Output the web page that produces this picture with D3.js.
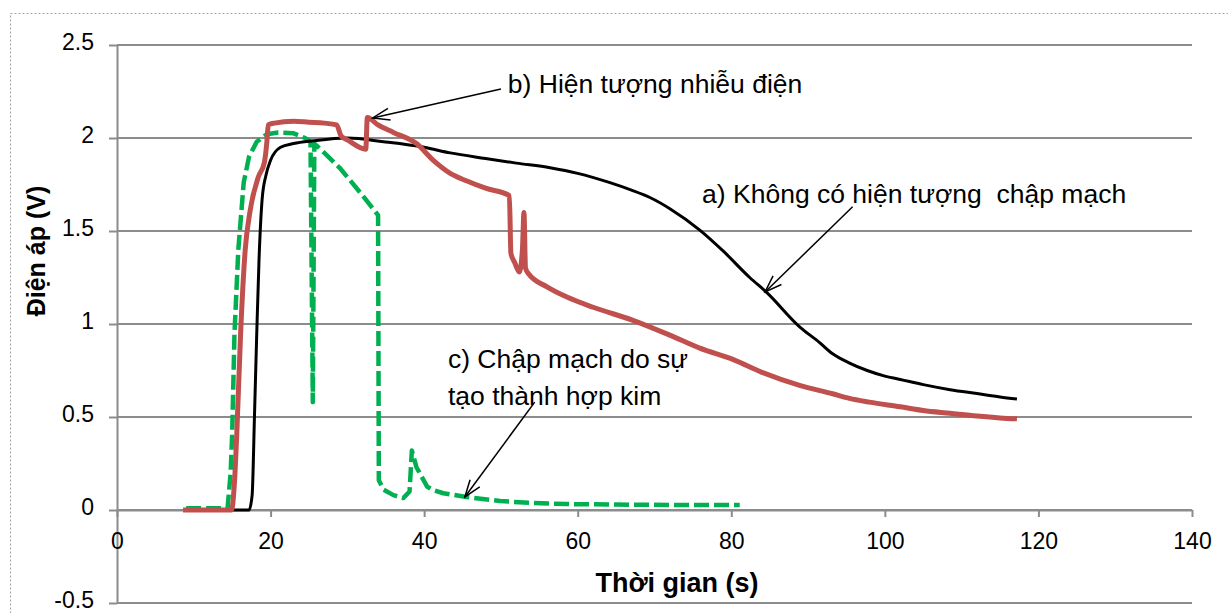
<!DOCTYPE html>
<html>
<head>
<meta charset="utf-8">
<script src="https://cdn.jsdelivr.net/npm/d3@7"></script>
<style>
  body { margin: 0; background: #fff; }
  svg { display: block; font-family: "Liberation Sans", Arial, sans-serif; }
</style>
</head>
<body>
<svg id="chart" width="1228" height="613"></svg>
<script>
// a) no short circuit (black)
const tA = [9, 17.2, 17.6, 17.9, 18.2, 18.5, 18.9, 19.4, 20, 21.3, 23, 25.6, 30, 34.7, 40, 43.4, 48, 52, 56.4, 60,
  64.2, 67, 69.4, 72, 75.9, 79, 82.4, 84.6, 88.9, 91.5, 93.2, 95.4, 97.7, 100, 102, 105, 108.5, 112, 115, 117.2];
const vA = [0, 0, 0.08, 0.5, 0.95, 1.35, 1.67, 1.8, 1.88, 1.95, 1.97, 1.985, 2.0, 1.98, 1.95, 1.92, 1.89, 1.865, 1.84, 1.81,
  1.76, 1.72, 1.68, 1.62, 1.505, 1.39, 1.25, 1.17, 0.985, 0.9, 0.84, 0.79, 0.75, 0.72, 0.702, 0.674, 0.647, 0.626, 0.608, 0.597];

// b) electrical noise (red)
const tB = [8.6, 14.9, 15.3, 15.6, 16.1, 16.7, 17.3, 18.4, 19.2, 19.5, 19.7, 20.5, 23, 25, 27, 28.6, 29.2, 30, 32.4, 32.6,
  34, 36, 39, 41.2, 43.4, 45.5, 48, 51.1, 51.3, 51.8, 52.4, 52.8, 53.0, 53.2, 53.6, 56, 58.6, 62, 67.2, 72,
  75.9, 80.2, 84, 88.9, 93.2, 95.4, 98, 102, 105, 108.5, 112, 115, 117.2];
const vB = [0, 0, 0.15, 0.41, 0.95, 1.4, 1.6, 1.79, 1.87, 1.97, 2.07, 2.08, 2.09, 2.085, 2.08, 2.07, 2.01, 1.99, 1.94, 2.11,
  2.07, 2.03, 1.97, 1.88, 1.81, 1.77, 1.73, 1.69, 1.38, 1.33, 1.28, 1.4, 1.6, 1.3, 1.27, 1.2, 1.145, 1.09, 1.02, 0.94,
  0.87, 0.81, 0.74, 0.67, 0.625, 0.6, 0.58, 0.555, 0.535, 0.52, 0.505, 0.495, 0.49];

// c) short circuit by alloy formation (green dashed)
const tC = [9, 14.4, 14.8, 15.0, 15.3, 15.8, 16.5, 17.2, 18.2, 19.5, 21, 23, 24.5, 25.2, 25.5, 25.7, 27, 29, 32, 34,
  34.1, 34.7, 36, 37.3, 38.1, 38.4, 39, 40.4, 41.2, 42.5, 45.5, 49.9, 54, 58.6, 65, 72, 81.1];
const vC = [0.01, 0.01, 0.2, 0.41, 0.95, 1.4, 1.76, 1.9, 1.98, 2.02, 2.03, 2.025, 2.0, 1.98, 0.58, 1.97, 1.92, 1.84, 1.69, 1.585,
  0.16, 0.11, 0.08, 0.064, 0.1, 0.32, 0.23, 0.125, 0.107, 0.09, 0.07, 0.048, 0.038, 0.032, 0.029, 0.027, 0.027];

const xTicks = [0, 20, 40, 60, 80, 100, 120, 140];
const yTicks = [-0.5, 0, 0.5, 1, 1.5, 2, 2.5];

// annotation labels: text lines, text anchor, arrow start, arrow tip (data units)
const notes = [
  { lines: ['b) Hiện tượng nhiễu điện'], tx: 50.9, ty: 2.242, x1: 50.0, y1: 2.263, x2: 33.3, y2: 2.108 },
  { lines: ['a) Không có hiện tượng\u00a0 chập mạch'], tx: 76.2, ty: 1.65, x1: 95.8, y1: 1.63, x2: 84.4, y2: 1.172 },
  { lines: ['c) Chập mạch do sự', 'tạo thành hợp kim'], tx: 43.1, ty: 0.763, x1: 54.4, y1: 0.58, x2: 45.3, y2: 0.07 }
];

const svg = d3.select('#chart');
const gridColor = '#8c8c8c';

const x = d3.scaleLinear().domain([0, 140]).range([117, 1192]);
const y = d3.scaleLinear().domain([-0.5, 2.5]).range([603, 45]);

// dotted outer frame
svg.append('rect')
  .attr('x', 10.5).attr('y', 13.5)
  .attr('width', 1240).attr('height', 640)
  .attr('fill', 'none')
  .attr('stroke', '#a6a6a6')
  .attr('stroke-width', 1.2)
  .attr('stroke-dasharray', '2,2');

// horizontal gridlines
svg.append('g').selectAll('line')
  .data(yTicks)
  .enter().append('line')
  .attr('x1', x(0)).attr('x2', x(140))
  .attr('y1', d => y(d)).attr('y2', d => y(d))
  .attr('stroke', gridColor)
  .attr('stroke-width', 2);

// y axis
let yAxis = svg.append('g')
  .attr('transform', `translate(${x(0)},0)`)
  .call(d3.axisLeft(y).tickValues(yTicks).tickFormat(d => String(d)).tickSize(8).tickSizeOuter(0).tickPadding(15));

// x axis along v = 0
let xAxis = svg.append('g')
  .attr('transform', `translate(0,${y(0)})`)
  .call(d3.axisBottom(x).tickValues(xTicks).tickFormat(d => String(d)).tickSize(7).tickSizeOuter(0).tickPadding(16));

[yAxis, xAxis].forEach(ax => {
  ax.select('.domain').attr('stroke', gridColor).attr('stroke-width', 2);
  ax.selectAll('.tick line').attr('stroke', gridColor).attr('stroke-width', 2);
  ax.selectAll('.tick text')
    .attr('fill', '#000')
    .style('font-size', '23px')
    .style('font-family', '"Liberation Sans", Arial, sans-serif');
});
yAxis.selectAll('.tick text').attr('dy', '0.2em');

// axis titles
svg.append('text')
  .attr('x', 677).attr('y', 592)
  .attr('text-anchor', 'middle')
  .style('font-size', '27px')
  .style('font-weight', 'bold')
  .text('Thời gian (s)');

svg.append('text')
  .attr('transform', 'translate(45,251) rotate(-90)')
  .attr('text-anchor', 'middle')
  .style('font-size', '25px')
  .style('font-weight', 'bold')
  .text('Điện áp (V)');

// series
let series = [
  { t: tA, v: vA, color: '#000000', width: 3, dash: null, curve: d3.curveMonotoneX },
  { t: tB, v: vB, color: '#c0504d', width: 5, dash: null, curve: d3.curveMonotoneX },
  { t: tC, v: vC, color: '#00b050', width: 4.5, dash: '15,5', curve: d3.curveLinear }
];

let plot = svg.append('g');
// draw green first, then black, red on top
[series[2], series[0], series[1]].forEach(s => {
  let line = d3.line()
    .curve(s.curve)
    .x(d => x(d[0]))
    .y(d => y(d[1]));
  plot.append('path')
    .datum(s.t.map((t, i) => [t, s.v[i]]))
    .attr('d', line)
    .attr('fill', 'none')
    .attr('stroke', s.color)
    .attr('stroke-width', s.width)
    .attr('stroke-linejoin', 'round')
    .attr('stroke-dasharray', s.dash);
});

// open arrowhead
svg.append('defs').append('marker')
  .attr('id', 'arrow')
  .attr('markerUnits', 'userSpaceOnUse')
  .attr('viewBox', '-20 -10 22 20')
  .attr('refX', 0).attr('refY', 0)
  .attr('markerWidth', 22).attr('markerHeight', 20)
  .attr('orient', 'auto')
  .append('path')
  .attr('d', 'M-17,-6L0,0L-17,6')
  .attr('fill', 'none')
  .attr('stroke', '#000')
  .attr('stroke-width', 1.5);

let note = svg.append('g').selectAll('g')
  .data(notes)
  .enter().append('g');

note.append('line')
  .attr('x1', d => x(d.x1)).attr('y1', d => y(d.y1))
  .attr('x2', d => x(d.x2)).attr('y2', d => y(d.y2))
  .attr('stroke', '#000')
  .attr('stroke-width', 1.5)
  .attr('marker-end', 'url(#arrow)');

note.append('text')
  .attr('x', d => x(d.tx))
  .attr('y', d => y(d.ty))
  .style('font-size', '26.5px')
  .selectAll('tspan')
  .data(d => d.lines.map(l => ({ l: l, x: x(d.tx) })))
  .enter().append('tspan')
  .attr('x', d => d.x)
  .attr('dy', (d, i) => i === 0 ? 0 : 37)
  .text(d => d.l);
</script>
</body>
</html>
